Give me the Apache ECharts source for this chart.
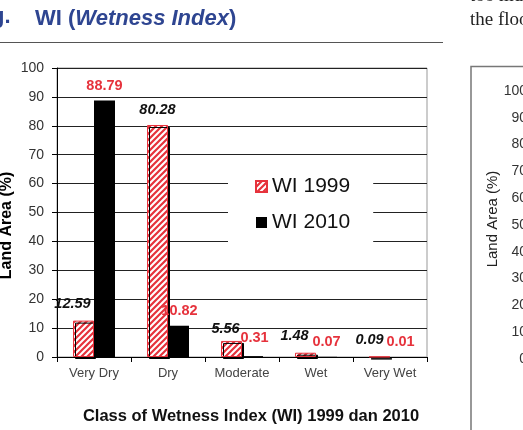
<!DOCTYPE html>
<html>
<head>
<meta charset="utf-8">
<script src="https://cdn.jsdelivr.net/npm/echarts@6/dist/echarts.min.js"></script>
<style>
html, body { margin: 0; padding: 0; background: #fff; }
#chart { width: 523px; height: 430px; }
</style>
</head>
<body>
<div id="chart"></div>
<script type="text/javascript">

var categories = ['Very Dry', 'Dry', 'Moderate', 'Wet', 'Very Wet'];
var wi1999 = [12.59, 80.28, 5.56, 1.48, 0.09];
var wi2010 = [88.79, 10.82, 0.31, 0.07, 0.01];
var seriesNames = ['WI 1999', 'WI 2010'];
var yMin = 0, yMax = 100, yStep = 10;

var RED = '#e6323c';
var FONT = 'Liberation Sans, Arial, sans-serif';

// red diagonal hatch for the 1999 bars
function hatch(){
    var n = 6;
    var c = document.createElement('canvas');
    c.width = n; c.height = n;
    var ctx = c.getContext('2d');
    ctx.fillStyle = '#fff';
    ctx.fillRect(0, 0, n, n);
    ctx.strokeStyle = RED;
    ctx.lineWidth = 2.2;
    ctx.beginPath();
    ctx.moveTo(-1, n + 1); ctx.lineTo(n + 1, -1);
    ctx.moveTo(-1, 1); ctx.lineTo(1, -1);
    ctx.moveTo(n - 1, n + 1); ctx.lineTo(n + 1, n - 1);
    ctx.stroke();
    return c;
}

// small nudges so the value labels sit where the original has them
var shift1999 = [[-11, -2], [0, 0], [-6, 3], [-11, -2], [-10, -2]];
var shift2010 = [[0, 0], [1, 0], [2, -4], [0, 0], [0, 0]];

function withShift(values, shifts){
    return values.map(function(v, i){
        return { value: v, label: { offset: shifts[i] } };
    });
}

var myChart = echarts.init(document.getElementById('chart'));

option = {
    animation: false,
    textStyle: { fontFamily: FONT },
    title: {
        left: 30,
        top: 3,
        text: '{a|WI (}{b|Wetness Index}{a|)}',
        textStyle: {
            rich: {
                a: { fontFamily: FONT, fontSize: 22, fontWeight: 'bold', color: '#2e4591' },
                b: { fontFamily: FONT, fontSize: 22, fontWeight: 'bold', fontStyle: 'italic', color: '#2e4591' }
            }
        }
    },
    graphic: [
        { type: 'text', left: -9, top: 6, style: { text: 'g.', font: 'bold 22px Liberation Sans', fill: '#2e4591' } },
        { type: 'line', shape: { x1: 0, y1: 42.5, x2: 443, y2: 42.5 }, style: { stroke: '#555', lineWidth: 1 } },
        { type: 'text', left: 470, top: -13, style: { text: 'too much', font: '19px Liberation Serif', fill: '#222' } },
        { type: 'text', left: 470, top: 11, style: { text: 'the flood', font: '19px Liberation Serif', fill: '#222' } },
        { type: 'polyline', shape: { points: [[471, 431], [471, 66.5], [524, 66.5]] }, style: { stroke: '#777', lineWidth: 1.5, fill: null } }
    ],
    legend: {
        orient: 'vertical',
        left: 228,
        top: 156,
        backgroundColor: '#fff',
        padding: [20, 23, 35, 27],
        itemWidth: 11,
        itemHeight: 11,
        itemGap: 15,
        icon: 'rect',
        textStyle: { fontFamily: FONT, fontSize: 21, color: '#111' },
        data: seriesNames
    },
    grid: [
        { left: 57, top: 68, width: 370, height: 289, show: true, borderColor: '#999', borderWidth: 1, outerBoundsMode: 'none', containLabel: false },
        { left: 535, top: 91, width: 50, height: 268, outerBoundsMode: 'none', containLabel: false }
    ],
    xAxis: [
        {
            type: 'category',
            gridIndex: 0,
            data: categories,
            axisLine: { lineStyle: { color: '#000' } },
            axisTick: { show: true, length: 5, lineStyle: { color: '#000' } },
            axisLabel: { color: '#444', fontSize: 13, margin: 10 },
            name: 'Class of Wetness Index (WI) 1999 dan 2010',
            nameLocation: 'middle',
            nameGap: 51,
            nameMoveOverlap: false,
            nameTextStyle: { fontSize: 16.5, fontWeight: 'bold', color: '#111', padding: [0, 0, 0, 18] }
        },
        { type: 'category', gridIndex: 1, data: [], show: false }
    ],
    yAxis: [
        {
            type: 'value',
            gridIndex: 0,
            min: yMin,
            max: yMax,
            interval: yStep,
            axisLine: { show: true, lineStyle: { color: '#000' } },
            axisTick: { show: true, length: 5, lineStyle: { color: '#000' } },
            splitLine: { lineStyle: { color: '#222', width: 1 } },
            axisLabel: { color: '#333', fontSize: 14, margin: 13 },
            name: 'Land Area (%)',
            nameLocation: 'middle',
            nameGap: 42,
            nameMoveOverlap: false,
            nameTextStyle: { fontSize: 16, fontWeight: 'bold', color: '#000', padding: [0, 26, 0, 0] }
        },
        {
            type: 'value',
            gridIndex: 1,
            min: yMin,
            max: yMax,
            interval: yStep,
            axisLine: { show: false },
            axisTick: { show: false },
            splitLine: { show: false },
            axisLabel: { color: '#333', fontSize: 14, margin: 8 },
            name: 'Land Area (%)',
            nameLocation: 'middle',
            nameGap: 35,
            nameMoveOverlap: false,
            nameTextStyle: { fontSize: 15, color: '#222', padding: [0, 0, 0, 12] }
        }
    ],
    series: [
        {
            name: seriesNames[0],
            type: 'bar',
            xAxisIndex: 0,
            yAxisIndex: 0,
            barWidth: 21,
            barGap: '0%',
            itemStyle: {
                color: { image: hatch(), repeat: 'repeat' },
                borderColor: RED,
                borderWidth: 1,
                shadowColor: '#000',
                shadowOffsetX: 2,
                shadowOffsetY: 2
            },
            label: {
                show: true,
                position: 'top',
                distance: 7,
                color: '#111',
                fontSize: 14.5,
                fontWeight: 'bold',
                fontStyle: 'italic'
            },
            data: withShift(wi1999, shift1999)
        },
        {
            name: seriesNames[1],
            type: 'bar',
            xAxisIndex: 0,
            yAxisIndex: 0,
            barWidth: 21,
            itemStyle: { color: '#000' },
            label: {
                show: true,
                position: 'top',
                distance: 7,
                color: RED,
                fontSize: 14.5,
                fontWeight: 'bold'
            },
            data: withShift(wi2010, shift2010)
        }
    ]
};
myChart.setOption(option);

</script>
</body>
</html>
